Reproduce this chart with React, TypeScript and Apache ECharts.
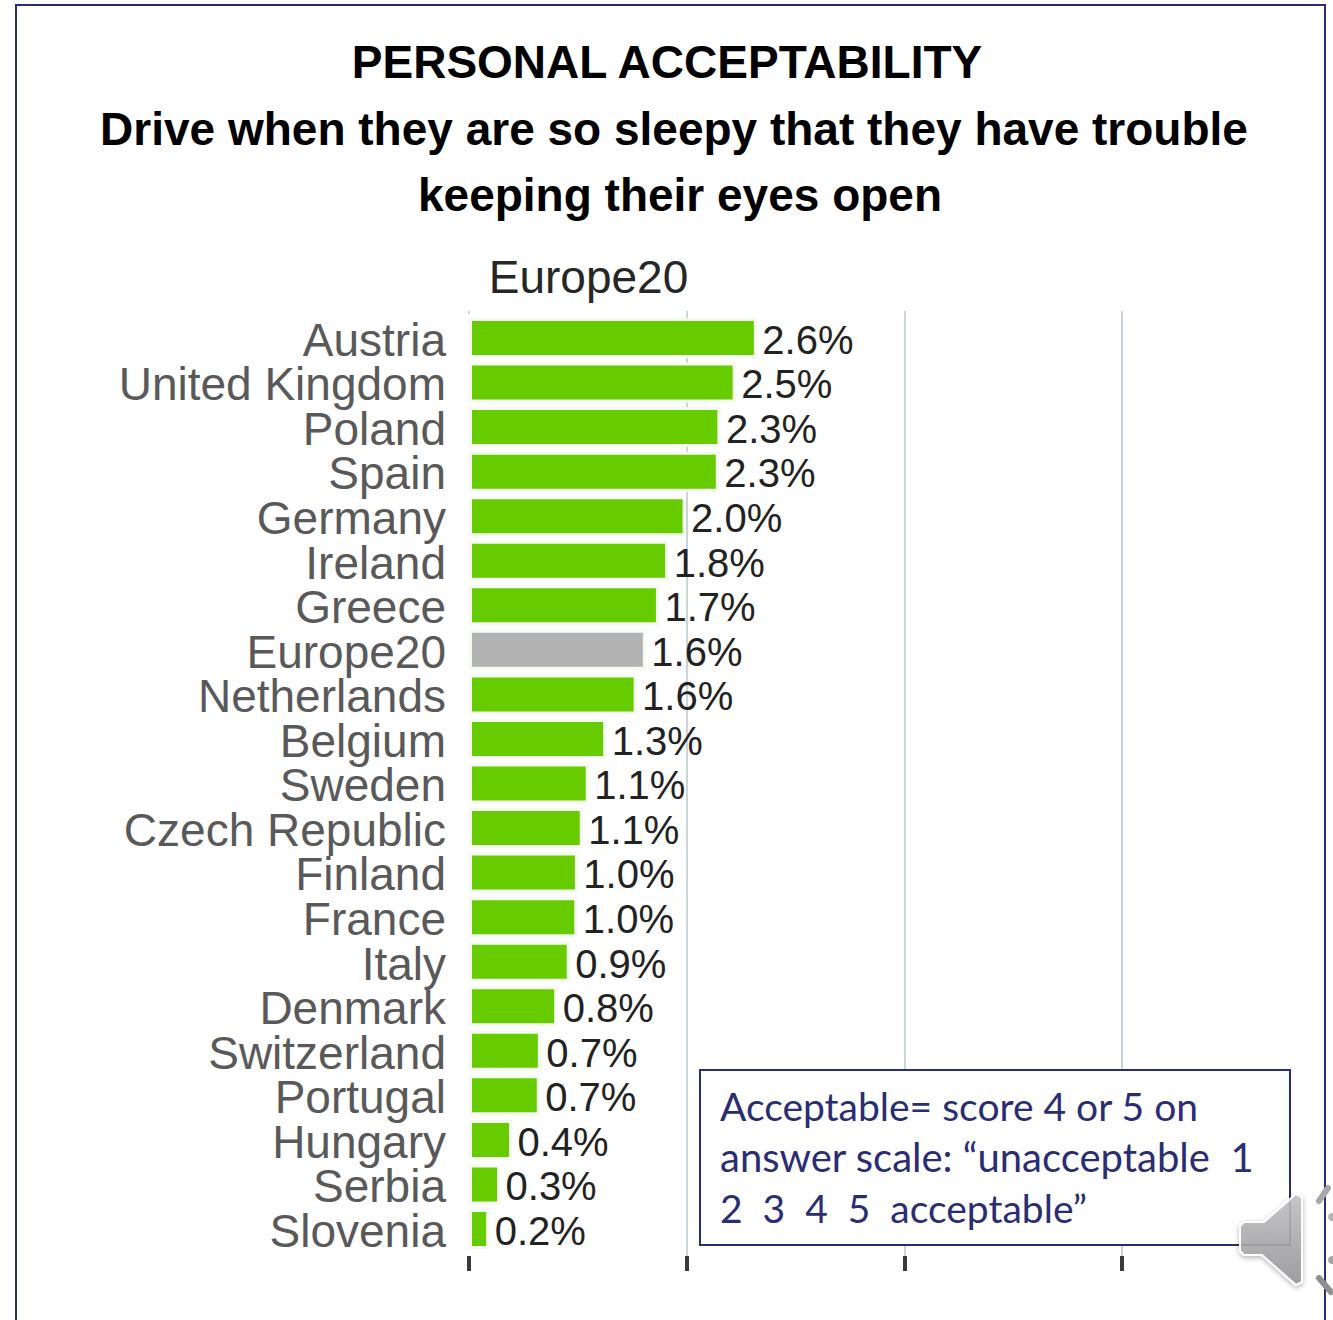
import React, { useEffect, useRef } from "react";
import * as echarts from "echarts";

const categories = ["Austria","United Kingdom","Poland","Spain","Germany","Ireland","Greece","Europe20","Netherlands","Belgium","Sweden","Czech Republic","Finland","France","Italy","Denmark","Switzerland","Portugal","Hungary","Serbia","Slovenia"];
const barValues = [2.645,2.45,2.31,2.295,1.99,1.83,1.745,1.625,1.54,1.26,1.10,1.045,1.0,0.995,0.925,0.81,0.66,0.65,0.395,0.285,0.185];
const valueLabels = ["2.6%","2.5%","2.3%","2.3%","2.0%","1.8%","1.7%","1.6%","1.6%","1.3%","1.1%","1.1%","1.0%","1.0%","0.9%","0.8%","0.7%","0.7%","0.4%","0.3%","0.2%"];
const highlighted = "Europe20";
const titleLines = ["PERSONAL ACCEPTABILITY","Drive when they are so sleepy that they have trouble","keeping their eyes open"];
const noteLines = ["Acceptable= score 4 or 5 on","answer scale: “unacceptable  1","2  3  4  5  acceptable”"];
const noteSizes = [39, 40, 39];

const GREEN = "#66cc00";
const GREY = "#b2b2b2";
const NAVY = "#2b2d72";

export default function App() {
  const ref = useRef<HTMLDivElement>(null);
  useEffect(() => {
    document.body.style.margin = "0";
    const chart = echarts.init(ref.current!, null, { renderer: "svg" });
    const dataBars = barValues.map((v, i) => ({
      value: v,
      itemStyle: { color: categories[i] === highlighted ? GREY : GREEN },
    }));
    const dataLabels = barValues.map((v, i) => ({
      value: v,
      label: { formatter: valueLabels[i] },
    }));
    const titleFont = "Liberation Sans, Arial, sans-serif";
    const boldTitle = { fontFamily: titleFont, fontWeight: "bold", fontSize: 46, color: "#000" };
    chart.setOption({
      animation: false,
      backgroundColor: "#ffffff",
      grid: [
        { left: 469, top: 311, width: 653, height: 945 },
        { left: 469, top: 315.7, width: 653, height: 935.6 },
        { left: 469, top: 317.5, width: 653, height: 935.6 },
      ],
      xAxis: [
        {
          gridIndex: 0, type: "value", min: 0, max: 6, interval: 2, position: "bottom",
          axisLabel: { show: false },
          axisLine: { show: false },
          axisTick: { show: true, length: 15, lineStyle: { color: "#3a3a3a", width: 4 } },
          splitLine: { show: true, showMinLine: false, lineStyle: { color: "#c9d5d8", width: 2 } },
        },
        { gridIndex: 1, type: "value", min: 0, max: 6, interval: 2, show: false },
        { gridIndex: 2, type: "value", min: 0, max: 6, interval: 2, show: false },
        {
          gridIndex: 0, type: "value", min: 0, max: 6, interval: 2, position: "top",
          axisLabel: { show: false },
          axisLine: { show: false },
          splitLine: { show: false },
          axisTick: { show: true, inside: true, length: 3, lineStyle: { color: "#c9d5d8", width: 2 } },
        },
      ],
      yAxis: [
        { gridIndex: 0, type: "category", data: [""], show: false },
        { gridIndex: 1, type: "category", inverse: true, data: categories, show: false },
        {
          gridIndex: 2, type: "category", inverse: true, data: categories,
          axisLine: { show: false }, axisTick: { show: false },
          axisLabel: {
            interval: 0, margin: 23, fontFamily: titleFont, fontSize: 46, color: "#595959",
            lineHeight: 44,
          },
        },
      ],
      series: [
        {
          type: "bar", xAxisIndex: 1, yAxisIndex: 1, barWidth: 40, data: dataBars,
          itemStyle: { borderColor: "#f4faf0", borderWidth: 3 },
        },
        {
          type: "bar", xAxisIndex: 2, yAxisIndex: 2, barWidth: 40, data: dataLabels,
          itemStyle: { color: "transparent" },
          label: {
            show: true, position: "right", distance: 5.5, fontFamily: titleFont, fontSize: 40,
            color: "#222222", lineHeight: 40,
          },
        },
      ],
      title: [
        { text: titleLines[0], left: 662, top: 34, textAlign: "center", textStyle: boldTitle },
        { text: titleLines[1], left: 669, top: 101, textAlign: "center", textStyle: boldTitle },
        { text: titleLines[2], left: 675, top: 167, textAlign: "center", textStyle: boldTitle },
        { text: highlighted, left: 583.5, top: 249, textAlign: "center", textStyle: { fontFamily: titleFont, fontWeight: "normal", fontSize: 46, color: "#262626" } },
      ],
      graphic: [
        { type: "polyline", shape: { points: [[16, 1320], [16, 5], [1325, 5], [1325, 1320]] }, style: { stroke: NAVY, lineWidth: 2, fill: "none" }, z: 10 },
        { type: "rect", shape: { x: 700, y: 1070, width: 590, height: 175 }, style: { fill: "#fff", stroke: NAVY, lineWidth: 2 }, z: 10 },
        ...noteLines.map((t, i) => ({
          type: "text", x: 720, y: 1106 + i * 51, z: 11,
          style: { text: t, fontFamily: "Lato", fontSize: noteSizes[i], fill: NAVY, verticalAlign: "middle" },
        })),
        {
          type: "polygon", z: 12,
          shape: { points: [[1244, 1222], [1264, 1222], [1296, 1194], [1302, 1197], [1302, 1282], [1296, 1285], [1262, 1255], [1244, 1255], [1240, 1251], [1240, 1226]] },
          style: {
            fill: new echarts.graphic.LinearGradient(0, 0, 0, 1, [{ offset: 0, color: "rgba(195,195,197,0.88)" }, { offset: 1, color: "rgba(150,150,152,0.88)" }]),
            stroke: "#ffffff", lineWidth: 2, shadowBlur: 5, shadowColor: "rgba(0,0,0,0.3)", shadowOffsetY: 2,
          },
        },
        { type: "line", z: 12, shape: { x1: 1319, y1: 1201, x2: 1328, y2: 1188 }, style: { stroke: "#a8a8aa", lineWidth: 6, lineCap: "round" } },
        { type: "line", z: 12, shape: { x1: 1319, y1: 1278, x2: 1331, y2: 1292 }, style: { stroke: "#8f8f91", lineWidth: 6, lineCap: "round" } },
        { type: "circle", z: 12, shape: { cx: 1332, cy: 1217, r: 4 }, style: { fill: "#b5b5b7" } },
        { type: "circle", z: 12, shape: { cx: 1332, cy: 1260, r: 4 }, style: { fill: "#a5a5a7" } },
      ],
    });
    return () => chart.dispose();
  }, []);
  return <div ref={ref} style={{ position: "absolute", left: 0, top: 0, width: 1333, height: 1320 }} />;
}
